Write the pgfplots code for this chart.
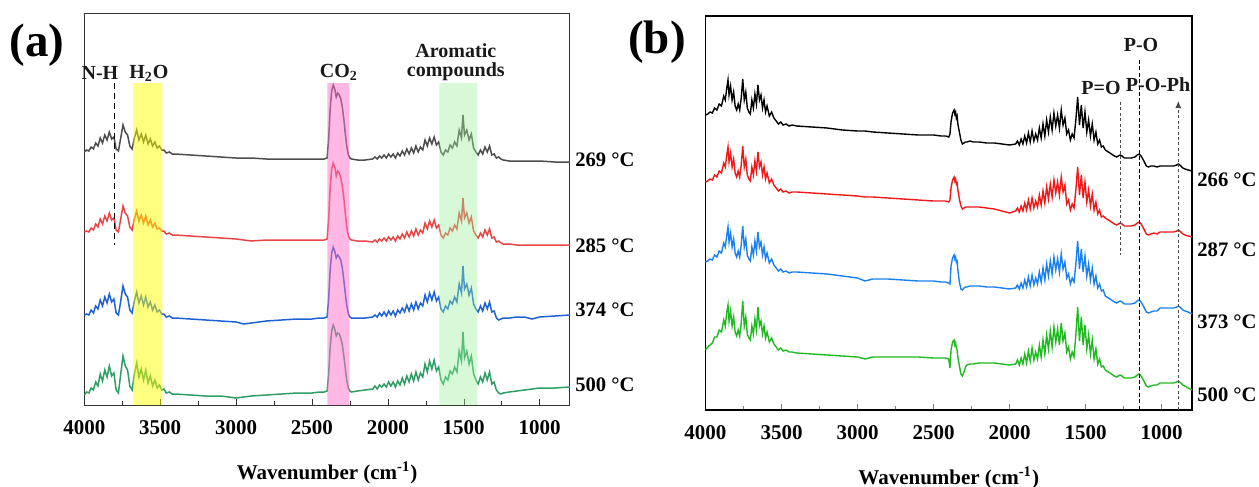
\documentclass[border=0pt]{standalone}
\usepackage{fontspec}
\setmainfont{Liberation Serif}
\usepackage{pgfplots}
\pgfplotsset{compat=1.18}
\usepackage{pgfplotstable}
\usetikzlibrary{arrows.meta}

% Panel (a): x = wavenumber, columns = vertical position of each trace (stacked, arbitrary units, downward)
\pgfplotstableread{
x k r b g
4000 152 232 315 395
3985 150 231 314 392
3970 151 232 315 393
3955 147 228 310 388
3940 149 230 313 390
3925 143 224 306 382
3910 146 227 309 386
3895 138 219 300 374
3880 143 224 306 381
3865 135 216 297 370
3850 140 221 303 377
3835 132 213 294 366
3820 139 220 302 376
3805 137 218 299 373
3790 149 230 313 390
3775 151 232 315 393
3760 138 219 301 374
3745 125 206 286 356
3730 132 213 294 366
3715 135 216 297 370
3700 146 227 310 386
3685 149 230 313 390
3670 138 219 301 374
3655 130 211 292 363
3640 140 221 303 377
3625 134 215 296 369
3610 142 223 305 380
3595 135 216 297 370
3580 144 225 307 383
3565 139 220 302 376
3550 146 227 310 386
3535 142 223 305 380
3520 148 229 312 388
3505 146 228 310 385
3490 150 231 314 390
3475 150 231 314 389
3460 153 234 317 393
3440 152 233 316 392
3420 154 235 318 394
3400 154 235 318 394
3300 155 236 319 395
3200 156 237 320 396
3100 157 238 321 396
3000 158 239 322 398
2950 158 240 324 397
2900 158 241 323 396
2800 159 240 321 395
2700 159 240 320 394
2600 159 240 319 393
2500 159 240 319 393
2450 159 240 318 392
2420 159 240 318 392
2400 158 239 317 391
2390 139 219 299 374
2380 109 188 270 347
2370 91 169 253 331
2360 85 163 247 325
2350 89 167 251 329
2340 97 176 258 336
2330 93 171 255 333
2320 95 173 257 334
2310 99 178 260 338
2300 107 186 268 345
2290 119 198 280 356
2280 134 214 294 369
2270 147 228 306 381
2260 155 236 314 388
2250 158 239 317 391
2240 159 240 318 392
2200 160 241 318 391
2150 160 241 318 390
2100 159 242 317 389
2085 157 240 315 386
2070 159 242 317 389
2055 156 239 313 385
2040 158 241 316 387
2025 155 238 312 384
2010 158 241 316 387
1995 154 237 311 382
1980 157 240 315 386
1965 154 237 311 382
1950 158 241 316 387
1935 153 236 310 381
1920 156 239 313 385
1905 151 234 308 378
1890 155 238 312 384
1875 149 232 305 376
1860 154 237 311 382
1845 148 231 304 374
1830 153 236 310 381
1815 146 229 302 372
1800 152 235 309 380
1785 147 230 303 373
1770 150 233 306 377
1755 140 223 295 364
1740 146 229 302 372
1725 138 221 293 361
1710 144 227 300 369
1695 137 220 292 360
1680 145 228 301 371
1665 142 225 297 367
1650 152 235 309 380
1635 155 238 312 384
1620 150 233 306 377
1605 152 235 309 380
1590 145 228 301 371
1575 148 231 304 374
1560 142 225 297 367
1545 146 229 302 372
1530 130 213 284 351
1515 138 221 293 361
1505 115 198 266 332
1495 135 218 289 358
1480 130 213 284 351
1465 140 223 295 364
1450 134 217 288 356
1435 148 231 304 374
1420 152 235 309 380
1405 155 238 312 384
1390 150 233 306 377
1375 154 237 311 382
1360 147 230 303 373
1345 152 235 309 380
1330 146 229 302 372
1315 155 238 312 384
1300 154 237 311 382
1285 158 242 318 390
1270 157 241 320 393
1255 159 243 319 394
1240 160 244 318 393
1200 161 244 318 392
1150 161 245 317 391
1100 161 245 317 390
1050 161 245 319 389
1000 161 245 317 388
900 162 245 316 388
800 162 245 315 387
}\tabA

% Panel (b)
\pgfplotstableread{
x k r b g
4000 115 182 262 350
3985 114 181 261 347
3970 112 179 259 345
3955 113 180 260 343
3940 108 175 255 337
3925 110 177 257 337
3910 104 171 251 330
3895 106 173 253 332
3880 96 163 243 320
3870 100 167 247 326
3860 88 155 235 312
3852 80 147 227 305
3845 95 162 242 321
3835 86 153 233 311
3825 100 167 247 326
3815 92 159 239 317
3805 106 173 253 332
3795 110 177 257 336
3785 104 171 251 330
3775 110 177 257 336
3765 98 165 245 323
3755 79 146 226 301
3745 100 167 247 326
3735 92 159 239 317
3725 108 175 255 334
3715 112 179 259 338
3705 114 181 261 340
3695 100 167 247 326
3685 108 175 255 334
3675 94 161 241 319
3665 104 171 251 330
3655 85 152 232 307
3645 100 167 247 326
3635 95 162 242 321
3625 108 175 255 334
3615 100 167 247 326
3605 112 179 259 338
3595 106 173 253 332
3580 116 183 263 342
3565 112 179 259 338
3550 118 185 265 344
3535 121 188 268 347
3520 124 191 271 350
3505 122 189 269 348
3490 125 192 272 351
3470 124 191 271 350
3450 126 193 273 352
3430 125 192 272 352
3400 126 192 272 353
3300 127 193 273 354
3200 128 194 274 355
3100 130 195 276 356
3000 131 196 278 357
2950 131 197 281 359
2900 132 197 279 357
2800 133 198 279 357
2700 134 199 280 357
2600 135 200 281 357
2500 135 201 281 358
2450 136 201 282 358
2420 136 201 282 358
2400 137 202 283 359
2392 134 200 284 368
2385 122 188 266 350
2375 113 180 258 342
2365 110 177 255 340
2360 114 181 259 345
2355 112 179 257 343
2350 118 184 262 348
2345 116 183 261 350
2340 124 190 270 357
2330 132 199 282 366
2320 140 206 289 374
2310 144 209 290 376
2300 143 208 288 372
2290 142 207 287 367
2280 142 207 287 365
2260 141 207 286 364
2240 142 207 286 364
2200 142 207 286 363
2150 143 208 287 363
2100 143 209 287 363
2050 144 211 288 364
2000 145 213 289 365
1960 144 211 288 364
1948 141 208 285 360
1936 145 212 289 365
1924 139 206 283 358
1912 144 211 288 364
1900 136 203 280 354
1888 143 210 287 363
1876 133 200 277 351
1864 142 209 286 361
1852 131 198 275 348
1840 141 208 285 360
1828 134 201 278 352
1816 140 207 284 359
1804 128 195 272 345
1792 138 205 282 357
1780 124 191 268 340
1768 136 203 280 354
1756 120 187 264 335
1744 132 199 276 349
1732 117 184 261 331
1720 130 197 274 347
1708 113 180 257 327
1696 126 193 270 342
1684 115 182 259 329
1672 128 195 272 345
1660 110 177 254 323
1648 125 192 269 341
1636 118 185 262 333
1624 134 204 278 352
1612 130 200 274 347
1600 140 210 284 359
1588 134 204 278 352
1576 138 208 282 357
1564 120 190 264 335
1552 97 167 241 307
1540 125 195 269 341
1528 105 175 249 317
1516 128 198 272 345
1504 112 182 256 325
1492 132 202 276 349
1480 120 190 264 335
1468 136 206 280 354
1456 124 194 268 340
1444 140 210 284 359
1432 132 202 276 349
1420 144 214 288 364
1408 140 210 284 359
1396 147 217 291 367
1384 146 216 290 366
1370 150 218 296 370
1350 152 220 298 372
1330 154 222 300 374
1310 156 224 302 376
1295 157 225 303 377
1285 156 224 302 376
1273 155 223 301 375
1260 156 224 302 376
1245 158 226 304 378
1229 158 226 304 378
1200 158 226 304 378
1175 157 225 303 377
1160 155 223 301 375
1148 154 222 300 374
1135 156 224 302 376
1120 160 228 306 380
1100 166 234 312 386
1087 167 235 313 387
1070 166 234 312 386
1050 166 233 311 385
1030 167 234 311 385
1010 166 232 308 383
980 166 232 308 383
950 166 232 308 383
920 166 232 308 383
900 165 231 307 382
890 164 230 306 381
880 165 231 307 382
860 168 234 310 385
846 169 235 311 386
825 170 236 312 388
800 171 237 314 390
}\tabB

\definecolor{aK}{HTML}{4D4D4D}
\definecolor{aR}{HTML}{E84545}
\definecolor{aB}{HTML}{1F62D6}
\definecolor{aG}{HTML}{2E9E66}
\definecolor{bK}{HTML}{000000}
\definecolor{bR}{HTML}{F01818}
\definecolor{bB}{HTML}{1A80F0}
\definecolor{bG}{HTML}{1FBA1F}
\definecolor{bandY}{HTML}{FFFF00}
\definecolor{bandP}{HTML}{FF6FC8}
\definecolor{bandG}{HTML}{9CF09C}

\pgfplotsset{ftir/.style={
  scale only axis, x dir=reverse, y dir=reverse,
  xmin=800, xmax=4000,
  xtick={1000,1500,2000,2500,3000,3500,4000}, minor x tick num=1,
  ytick=\empty, xtick pos=bottom, tick align=inside,
  major tick length=3pt, minor tick length=1.8pt,
  clip=false,
  /pgf/number format/1000 sep={},
  /pgf/number format/assume math mode=true,
  xticklabel style={font=\bfseries\fontsize{10.5}{12}\selectfont, yshift=-4pt},
  xlabel={Wavenumber (cm\textsuperscript{-1})},
  xlabel style={font=\bfseries\fontsize{10.5}{12}\selectfont, at={(axis description cs:0.5,0)}, anchor=center, yshift=-34pt},
}}
\tikzset{lab/.style={font=\bfseries\fontsize{10}{11}\selectfont, text=black!90, inner sep=0pt},
         tlab/.style={font=\bfseries\fontsize{10.3}{12}\selectfont, anchor=west, inner sep=0pt}}

\begin{document}
\begin{tikzpicture}
\useasboundingbox (0,0) rectangle (629.5pt,243.5pt);
% ---------------- (a)
\begin{axis}[ftir, at={(42.15pt,41pt)}, anchor=south west, width=242.85pt, height=196pt,
  ymin=13, ymax=405, axis line style={draw=black!80, line width=0.5pt}, tick style={black!80}]
\addplot[aK, line width=0.75pt] table[x=x, y=k]{\tabA};
\addplot[aR, line width=0.75pt] table[x=x, y=r]{\tabA};
\addplot[aB, line width=0.75pt] table[x=x, y=b]{\tabA};
\addplot[aG, line width=0.75pt] table[x=x, y=g]{\tabA};
\addplot[draw=none, fill=bandY, fill opacity=0.5] coordinates {(3677,83) (3486,83) (3486,405) (3677,405) (3677,83)};
\addplot[draw=none, fill=bandP, fill opacity=0.5] coordinates {(2399,83) (2254,83) (2254,405) (2399,405) (2399,83)};
\addplot[draw=none, fill=bandG, fill opacity=0.4] coordinates {(1661,83) (1411,83) (1411,405) (1661,405) (1661,83)};
\addplot[black, line width=0.4pt, densely dashed] coordinates {(3801,83) (3801,245)};
\node[lab] at (axis cs:3897,73) {N-H};
\node[lab] at (axis cs:3574,73) {H\textsubscript{2}O};
\node[lab] at (axis cs:2323,72) {CO\textsubscript{2}};
\node[lab, align=center, font=\bfseries\fontsize{10}{9.5}\selectfont] at (axis cs:1552,62) {Aromatic\\compounds};
\node[font=\bfseries\fontsize{23.5}{26}\selectfont, inner sep=0pt] at (axis cs:4312,45) {(a)};
\node[tlab] at (axis cs:767,160) {269 °C};
\node[tlab] at (axis cs:767,246) {285 °C};
\node[tlab] at (axis cs:767,310) {374 °C};
\node[tlab] at (axis cs:767,385) {500 °C};
\end{axis}
% ---------------- (b)
\begin{axis}[ftir, at={(352.75pt,38.5pt)}, anchor=south west, width=243.25pt, height=197pt,
  ymin=16, ymax=410, axis line style={draw=black, line width=0.9pt}]
\addplot[bK, line width=0.7pt] table[x=x, y=k]{\tabB};
\addplot[bR, line width=0.7pt] table[x=x, y=r]{\tabB};
\addplot[bB, line width=0.7pt] table[x=x, y=b]{\tabB};
\addplot[bG, line width=0.7pt] table[x=x, y=g]{\tabB};
\addplot[black!70, line width=0.4pt, dash pattern=on 1.5pt off 1.2pt] coordinates {(1273,102) (1273,255)};
\addplot[black, line width=0.45pt, dash pattern=on 2pt off 1.2pt] coordinates {(1148,60) (1148,410)};
\addplot[black!70, line width=0.4pt, dash pattern=on 1.5pt off 1.2pt, -{Latex[length=3.5pt,width=3pt]}] coordinates {(890,410) (890,101)};
\node[lab] at (axis cs:1135,45) {P-O};
\node[lab] at (axis cs:1398,88) {P=O};
\node[lab] at (axis cs:1023,85) {P-O-Ph};
\node[font=\bfseries\fontsize{23.5}{26}\selectfont, inner sep=0pt] at (axis cs:4319,42) {(b)};
\node[tlab] at (axis cs:767,180) {266 °C};
\node[tlab] at (axis cs:767,250) {287 °C};
\node[tlab] at (axis cs:767,322) {373 °C};
\node[tlab] at (axis cs:767,395) {500 °C};
\end{axis}
\end{tikzpicture}
\end{document}
